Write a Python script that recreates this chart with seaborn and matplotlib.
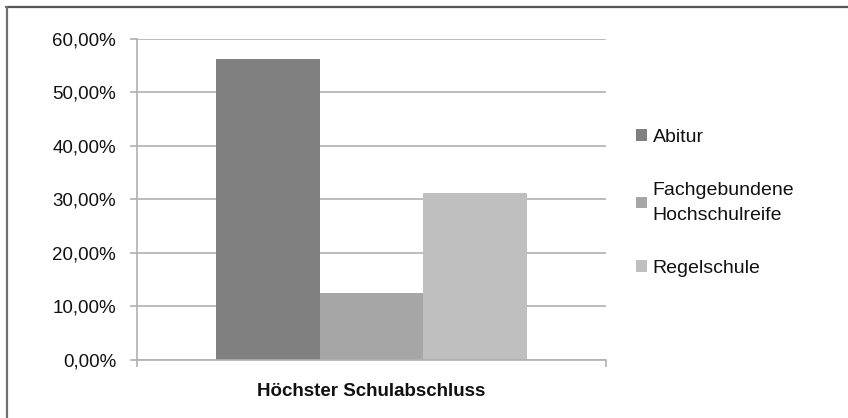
import matplotlib
matplotlib.use("Agg")
import matplotlib.pyplot as plt
from matplotlib import font_manager
from matplotlib.lines import Line2D
from matplotlib.patches import Patch
from matplotlib.ticker import FuncFormatter, FixedLocator
import seaborn as sns
import pandas as pd

# Data
category = ["Höchster Schulabschluss"]
series = ["Abitur", "Fachgebundene Hochschulreife", "Regelschule"]
legend_labels = ["Abitur", "Fachgebundene\nHochschulreife", "Regelschule"]
values = [56.25, 12.5, 31.25]
colors = ["#808080", "#a6a6a6", "#bfbfbf"]
y_ticks = [0, 10, 20, 30, 40, 50, 60]

sns.set_theme(style="white")
available = {f.name for f in font_manager.fontManager.ttflist}
families = [f for f in ["Liberation Sans Narrow", "Liberation Sans", "DejaVu Sans"] if f in available]
plt.rcParams["font.family"] = families

df = pd.DataFrame({
    "cat": category * len(series),
    "series": series,
    "value": values,
})

W, H = 848, 418
fig = plt.figure(figsize=(W / 100, H / 100), dpi=100)
fig.patch.set_facecolor("white")
ax = fig.add_axes([137 / W, (H - 359.7) / H, (606 - 137) / W, (359.7 - 39) / H])

sns.barplot(data=df, x="cat", y="value", hue="series", palette=colors,
            width=0.665, gap=0, dodge=True, ax=ax, legend=False,
            saturation=1, linewidth=0)

ax.set_xlim(-0.5, 0.5)
ax.set_ylim(0, 60)
ax.yaxis.set_major_locator(FixedLocator(y_ticks))
ax.yaxis.set_major_formatter(FuncFormatter(lambda v, p: f"{v:.2f}%".replace(".", ",")))
ax.grid(axis="y", color="#b0b0b0", linewidth=1.2)
ax.set_axisbelow(True)
for s in ["top", "right"]:
    ax.spines[s].set_visible(False)
for s in ["left", "bottom"]:
    ax.spines[s].set_color("#b0b0b0")
    ax.spines[s].set_linewidth(1.2)

ax.tick_params(axis="y", which="major", length=5, width=1.2, color="#b0b0b0",
               labelsize=13.5, labelcolor="#111111", pad=10, left=True)
ax.set_xticks([0])
ax.set_xticklabels(category, fontsize=13.5, fontweight="bold", color="#111111")
ax.tick_params(axis="x", which="major", length=0, pad=17)
ax.set_xticks([-0.5, 0.5], minor=True)
ax.tick_params(axis="x", which="minor", length=5, width=1.2, color="#b0b0b0", bottom=True)
ax.set_xlabel("")
ax.set_ylabel("")

handles = [Patch(facecolor=c, edgecolor="none") for c in colors]
leg = fig.legend(handles, legend_labels, loc="center left",
                 bbox_to_anchor=(636 / W, (H - 203) / H),
                 frameon=False, fontsize=14, handlelength=0.55, handleheight=0.55,
                 handletextpad=0.3, labelspacing=1.85, borderpad=0, borderaxespad=0,
                 labelcolor="#111111")
for t in leg.get_texts():
    t.set_linespacing(1.6)

# Outer frame (top and left edges)
fig.add_artist(Line2D([6 / W, 1], [(H - 7) / H, (H - 7) / H], color="#555555", linewidth=1.6))
fig.add_artist(Line2D([6.5 / W, 6.5 / W], [0, (H - 7) / H], color="#707070", linewidth=1.6))

fig.savefig("out.png", dpi=100, facecolor="white")
